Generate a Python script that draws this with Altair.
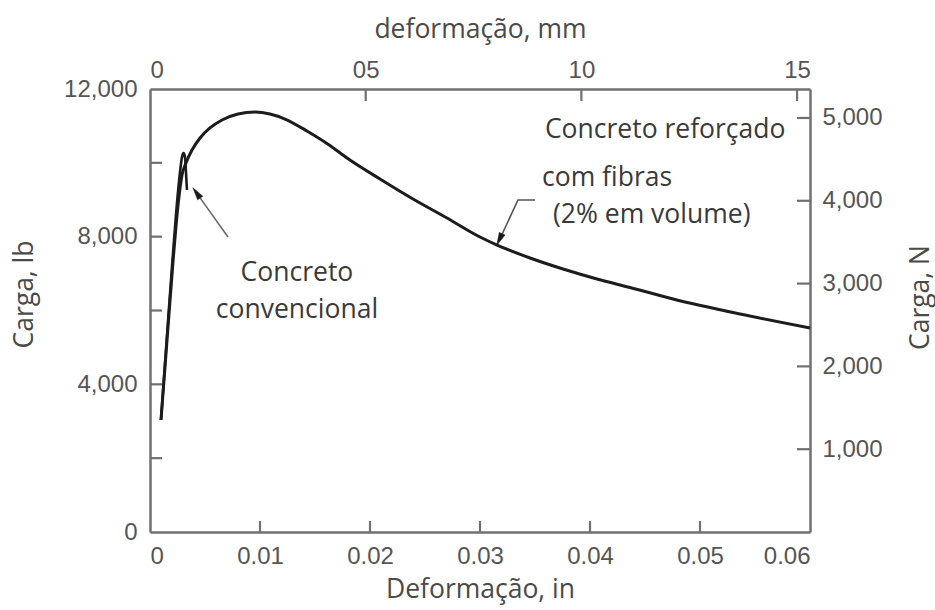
import altair as alt
import pandas as pd

# ---- data (inches, pounds) ----
fiber_x = [0.00100, 0.00155, 0.00209, 0.00255, 0.00291, 0.00327, 0.00382, 0.00455,
           0.00545, 0.00655, 0.00800, 0.00955, 0.01091, 0.01227, 0.01427, 0.01636,
           0.01791, 0.02091, 0.02391, 0.02700, 0.03000, 0.03155, 0.03455, 0.03755,
           0.04064, 0.04364, 0.04755, 0.05364, 0.06000]
fiber_y = [3034, 5201, 7314, 8858, 9671, 9996, 10348, 10673,
           10944, 11161, 11323, 11378, 11323, 11187, 10862, 10469,
           10131, 9562, 9020, 8506, 7991, 7774, 7422, 7124,
           6853, 6623, 6312, 5905, 5526]

conv_x = [0.00100, 0.00145, 0.00191, 0.00236, 0.00273, 0.00291, 0.00305, 0.00318, 0.00327, 0.00336]
conv_y = [3034, 4930, 6827, 8587, 9752, 10158, 10267, 10158, 9752, 9264]

# annotation arrows (data coordinates)
arrow1_x = [0.00709, 0.00420]
arrow1_y = [7991, 9200]
arrow2_x = [0.03500, 0.03345, 0.03180]
arrow2_y = [8994, 8994, 7930]
head1_x, head1_y, head1_angle = [0.00423], [9186], 324.5
head2_x, head2_y, head2_angle = [0.03177], [7924], 205

# annotation texts
fiber_label_text = ["Concreto reforçado", "com fibras", "(2% em volume)"]
fiber_label_x = [0.03590, 0.03564, 0.03664]
fiber_label_y = [10890, 9590, 8587]
conv_label_text = ["Concreto", "convencional"]
conv_label_x = [0.01336, 0.01336]
conv_label_y = [7016, 6014]

# axes ticks
bottom_ticks = [0, 0.01, 0.02, 0.03, 0.04, 0.05, 0.06]
bottom_inner_ticks = [0.01, 0.02, 0.03, 0.04, 0.05]
left_ticks = [0, 2000, 4000, 6000, 8000, 10000, 12000]
left_inner_ticks = [2000, 4000, 6000, 8000, 10000]
top_ticks = [0, 5, 10, 15]
top_tick_labels = ["0", "05", "10", "15"]
top_inner_ticks = [5, 10, 15]
right_ticks = [1000, 2000, 3000, 4000, 5000]

W, H = 660, 443
AX = "#707070"
LBL = "#555555"
TXT = "#3a3a3a"
CURVE = "#1c1c1c"
TICKFONT = "Liberation Sans"
TEXTFONT = "Open Sans"
FS = 26.5
HEAD = "M0,-1L0.5,1L-0.5,1Z"

xs = alt.Scale(domain=[0, 0.06], nice=False, zero=False)
ys = alt.Scale(domain=[0, 12000], nice=False, zero=False)
mms = alt.Scale(domain=[0, 15.3], nice=False, zero=False)
ns = alt.Scale(domain=[0, 5350], nice=False, zero=False)

common = dict(ticks=False, tickSize=0, grid=False, domainColor=AX, domainWidth=2.5,
              labelFont=TICKFONT, labelFontSize=24, labelColor=LBL,
              titleFont=TEXTFONT, titleFontSize=FS, titleFontWeight="normal",
              titleColor="#4a4a4a", titleAlign="center", titleBaseline="middle")

bottom_axis = alt.Axis(orient="bottom", values=bottom_ticks,
                       labelExpr="format(datum.value, '.2~f')", labelPadding=12,
                       title="Deformação, in", titleX=330, titleY=57, **common)
left_axis = alt.Axis(orient="left", values=left_ticks,
                     labelExpr="datum.value % 4000 == 0 ? format(datum.value, ',') : ''",
                     labelPadding=13, title="Carga, lb", titleAngle=270,
                     titleX=-126, titleY=205, **common)
top_expr = " : ".join(f"datum.value == {v} ? '{l}'" for v, l in zip(top_ticks, top_tick_labels)) + " : ''"
top_axis = alt.Axis(orient="top", values=top_ticks, labelExpr=top_expr, labelPadding=7,
                    title="deformação, mm", titleX=330, titleY=-60, **common)
right_axis = alt.Axis(orient="right", values=right_ticks,
                      labelExpr="format(datum.value, ',')", labelPadding=12,
                      title="Carga, N", titleAngle=270, titleX=110, titleY=208, **common)

df_fiber = pd.DataFrame({"x": fiber_x, "y": fiber_y, "o": list(range(len(fiber_x)))})
df_conv = pd.DataFrame({"x": conv_x, "y": conv_y, "o": list(range(len(conv_x)))})
df_a1 = pd.DataFrame({"x": arrow1_x, "y": arrow1_y, "o": [0, 1]})
df_a2 = pd.DataFrame({"x": arrow2_x, "y": arrow2_y, "o": [0, 1, 2]})
df_h1 = pd.DataFrame({"x": head1_x, "y": head1_y})
df_h2 = pd.DataFrame({"x": head2_x, "y": head2_y})
df_flab = pd.DataFrame({"x": fiber_label_x, "y": fiber_label_y, "t": fiber_label_text})
df_clab = pd.DataFrame({"x": conv_label_x, "y": conv_label_y, "t": conv_label_text})
df_lt = pd.DataFrame({"y": left_inner_ticks})
df_bt = pd.DataFrame({"x": bottom_inner_ticks})
df_rt = pd.DataFrame({"n": right_ticks})
df_tt = pd.DataFrame({"mm": top_inner_ticks})

X = lambda: alt.X("x:Q", scale=xs, axis=None)
Y = lambda: alt.Y("y:Q", scale=ys, axis=None)

fiber = alt.Chart(df_fiber).mark_line(color=CURVE, strokeWidth=3, interpolate="monotone").encode(
    x=alt.X("x:Q", scale=xs, axis=bottom_axis),
    y=alt.Y("y:Q", scale=ys, axis=left_axis),
    order="o:Q")
conv = alt.Chart(df_conv).mark_line(color=CURVE, strokeWidth=2.6, interpolate="monotone").encode(
    x=X(), y=Y(), order="o:Q")
a1 = alt.Chart(df_a1).mark_line(color="#6a6a6a", strokeWidth=1.6).encode(x=X(), y=Y(), order="o:Q")
a2 = alt.Chart(df_a2).mark_line(color="#555555", strokeWidth=1.6).encode(x=X(), y=Y(), order="o:Q")
h1 = alt.Chart(df_h1).mark_point(shape=HEAD, filled=True, size=160, angle=head1_angle,
                                 fill="#1a1a1a", stroke="#1a1a1a", strokeWidth=0.5,
                                 fillOpacity=1, opacity=1).encode(x=X(), y=Y())
h2 = alt.Chart(df_h2).mark_point(shape=HEAD, filled=True, size=160, angle=head2_angle,
                                 fill="#1a1a1a", stroke="#1a1a1a", strokeWidth=0.5,
                                 fillOpacity=1, opacity=1).encode(x=X(), y=Y())
flab = alt.Chart(df_flab).mark_text(align="left", baseline="middle", font=TEXTFONT, fontSize=FS, color=TXT).encode(
    x=X(), y=Y(), text="t:N")
clab = alt.Chart(df_clab).mark_text(align="center", baseline="middle", font=TEXTFONT, fontSize=FS, color=TXT).encode(
    x=X(), y=Y(), text="t:N")
lt = alt.Chart(df_lt).mark_rule(color=AX, strokeWidth=2.2).encode(
    y=alt.Y("y:Q", scale=ys, axis=None), x=alt.value(0), x2=alt.value(12))
bt = alt.Chart(df_bt).mark_rule(color=AX, strokeWidth=2.2).encode(
    x=alt.X("x:Q", scale=xs, axis=None), y=alt.value(H), y2=alt.value(H - 11))
rt = alt.Chart(df_rt).mark_rule(color=AX, strokeWidth=2.2).encode(
    y=alt.Y("n:Q", scale=ns, axis=right_axis), x=alt.value(W), x2=alt.value(W - 13))
tt = alt.Chart(df_tt).mark_rule(color=AX, strokeWidth=2.2).encode(
    x=alt.X("mm:Q", scale=mms, axis=top_axis), y=alt.value(0), y2=alt.value(12))

chart = alt.layer(fiber, conv, a1, a2, h1, h2, flab, clab, lt, bt, rt, tt).resolve_scale(
    x="independent", y="independent").properties(
    width=W, height=H, autosize=alt.AutoSizeParams(type="none"),
    padding={"left": 150, "top": 89, "right": 125, "bottom": 78},
    background="white",
).configure_view(stroke=None)

chart.save("out.html", embed_options={"renderer": "svg", "actions": False})
